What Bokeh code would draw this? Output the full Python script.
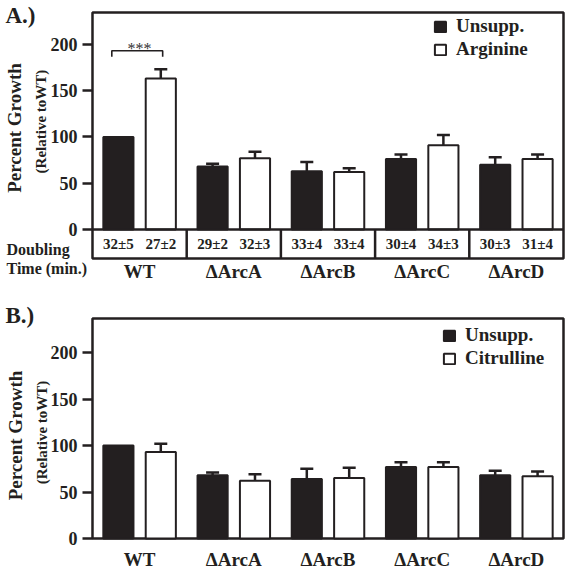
import numpy as np
from bokeh.plotting import figure
from bokeh.models import (ColumnDataSource, Whisker, TeeHead, Label, Legend, LegendItem,
                          FixedTicker, Range1d)
from bokeh.layouts import column
from bokeh.core.properties import value
from bokeh.embed import file_html
from bokeh.resources import INLINE

# ---------------- data ----------------
strains = ["WT", "ΔArcA", "ΔArcB", "ΔArcC", "ΔArcD"]
y_ticks = [0, 50, 100, 150, 200]

a_unsupp = [100, 68, 63, 76, 70]
a_unsupp_err = [0, 3, 10, 5, 8]
a_arg = [163, 77, 62, 91, 76]
a_arg_err = [10, 7, 4, 11, 5]
a_doubling_unsupp = ["32±5", "29±2", "33±4", "30±4", "30±3"]
a_doubling_arg = ["27±2", "32±3", "33±4", "34±3", "31±4"]
a_sig_label = "***"
a_sig_level = 193

b_unsupp = [100, 68, 64, 77, 68]
b_unsupp_err = [0, 3, 11, 5, 5]
b_cit = [93, 62, 65, 77, 67]
b_cit_err = [9, 7, 11, 5, 5]

# ---------------- style / layout ----------------
BLACK = "#231f20"
FONT = "Liberation Serif"
OFF = 0.225
BW = 0.32
N = len(strains)
W = 567
X_LO, X_HI = -1.4766, N - 0.5 + 0.0425   # frame covers whole canvas; box spans -0.5..N-0.5


def xpx(px):
    return X_LO + px * (X_HI - X_LO) / W


def add_label(p, x, y, text, size, align="left", angle=0.0, style="bold", baseline="middle"):
    p.add_layout(Label(x=x, y=y, text=text, angle=angle, text_align=align,
                       text_baseline=baseline, text_font=FONT, text_font_size=size,
                       text_font_style=style, text_color=BLACK))


def make_panel(height, y_lo, y_hi, box_bottom, box_top, unsupp, unsupp_err, supp, supp_err,
               supp_name, tag, tag_y, legend_loc, x_standoff, ylab_y1, ylab_y2, ylab_x1, ylab_x2):
    x = np.arange(N)
    p = figure(width=W, height=height, output_backend="svg", toolbar_location=None,
               x_range=Range1d(X_LO, X_HI), y_range=Range1d(y_lo, y_hi),
               min_border_left=0, min_border_right=0, min_border_top=0, min_border_bottom=0)
    p.background_fill_color = "white"
    p.border_fill_color = "white"
    p.outline_line_color = None
    p.grid.visible = False

    # plot box
    p.quad(left=[-0.5], right=[N - 0.5], bottom=[box_bottom], top=[box_top],
           fill_color=None, line_color=BLACK, line_width=2.5)

    src_u = ColumnDataSource(dict(x=x - OFF, top=unsupp))
    src_s = ColumnDataSource(dict(x=x + OFF, top=supp))
    r_u = p.vbar(x="x", top="top", bottom=0, width=BW, source=src_u,
                 fill_color=BLACK, line_color=BLACK, line_width=2)
    r_s = p.vbar(x="x", top="top", bottom=0, width=BW, source=src_s,
                 fill_color="white", line_color=BLACK, line_width=2)

    for xs, vals, errs in [(x - OFF, unsupp, unsupp_err), (x + OFF, supp, supp_err)]:
        keep = [i for i, e in enumerate(errs) if e > 0]
        ws = ColumnDataSource(dict(base=[float(xs[i]) for i in keep],
                                   lower=[vals[i] for i in keep],
                                   upper=[vals[i] + errs[i] for i in keep]))
        p.add_layout(Whisker(source=ws, base="base", lower="lower", upper="upper",
                             line_color=BLACK, line_width=2.5,
                             upper_head=TeeHead(size=13, line_color=BLACK, line_width=2.5),
                             lower_head=None))

    # y axis, fixed at the box's left edge
    p.yaxis.fixed_location = -0.5
    p.yaxis.ticker = FixedTicker(ticks=y_ticks)
    p.yaxis.major_label_text_font = FONT
    p.yaxis.major_label_text_font_size = "18px"
    p.yaxis.major_label_text_font_style = "bold"
    p.yaxis.major_label_text_color = BLACK
    p.yaxis.axis_line_color = None
    p.yaxis.major_tick_line_color = BLACK
    p.yaxis.major_tick_line_width = 2.5
    p.yaxis.major_tick_out = 10
    p.yaxis.major_tick_in = 0
    p.yaxis.minor_tick_line_color = None
    p.yaxis.major_label_standoff = 5

    # x axis, fixed at the box's bottom edge
    p.xaxis.fixed_location = box_bottom
    p.xaxis.ticker = FixedTicker(ticks=list(range(N)))
    p.xaxis.major_label_overrides = {i: s for i, s in enumerate(strains)}
    p.xaxis.major_label_text_font = FONT
    p.xaxis.major_label_text_font_size = "19px"
    p.xaxis.major_label_text_font_style = "bold"
    p.xaxis.major_label_text_color = BLACK
    p.xaxis.axis_line_color = None
    p.xaxis.major_tick_line_color = None
    p.xaxis.minor_tick_line_color = None
    p.xaxis.major_tick_out = 0
    p.xaxis.major_label_standoff = x_standoff

    # legend
    legend = Legend(items=[LegendItem(label="Unsupp.", renderers=[r_u]),
                           LegendItem(label=supp_name, renderers=[r_s])],
                    location=legend_loc, padding=0, margin=0, spacing=1,
                    glyph_width=14, glyph_height=13, label_height=20, label_standoff=9,
                    label_text_font=FONT, label_text_font_size="19px",
                    label_text_font_style="bold", label_text_color=BLACK,
                    border_line_color=None, background_fill_alpha=0)
    p.add_layout(legend)

    # y labels and panel tag
    add_label(p, xpx(ylab_x1), ylab_y1, "Percent Growth", "19px", "center", np.pi / 2)
    add_label(p, xpx(ylab_x2), ylab_y2, "(Relative toWT)", "15px", "center", np.pi / 2)
    add_label(p, xpx(5), tag_y, tag, "23px")
    return p


# ---------------- panel A ----------------
A_BOX_TOP, A_BOX_BOTTOM = 234.3, -31.3
pA = make_panel(290, -65.9, 247.3, A_BOX_BOTTOM, A_BOX_TOP, a_unsupp, a_unsupp_err,
                a_arg, a_arg_err, "Arginine", "A.)", 231.1, (433, 230), 3,
                109.6, 116.6, 14, 40)
xA = np.arange(N)
# zero line and doubling-time boxes
pA.line(x=[-0.5, N - 0.5], y=[0, 0], line_color=BLACK, line_width=2.5)
bounds = xA[:-1] + 0.5
pA.segment(x0=bounds, y0=A_BOX_BOTTOM, x1=bounds, y1=0, line_color=BLACK, line_width=2.5)
pA.text(x=xA - OFF, y=[-16.2] * N, text=a_doubling_unsupp, text_font=value(FONT),
        text_font_size="15px", text_font_style="bold", text_color=BLACK,
        text_align="center", text_baseline="middle")
pA.text(x=xA + OFF, y=[-16.2] * N, text=a_doubling_arg, text_font=value(FONT),
        text_font_size="15px", text_font_style="bold", text_color=BLACK,
        text_align="center", text_baseline="middle")
add_label(pA, xpx(6), -22, "Doubling", "16px")
add_label(pA, xpx(6), -42, "Time (min.)", "16px")
# significance bracket between WT bars
bx0 = xA[0] - OFF - 0.07
bx1 = xA[0] + OFF + 0.02
pA.line(x=[bx0, bx0, bx1, bx1], y=[a_sig_level - 6.5, a_sig_level, a_sig_level, a_sig_level - 6.5],
        line_color=BLACK, line_width=1.6)
pA.text(x=[xA[0]], y=[a_sig_level + 2.5], text=[a_sig_label], text_font=value(FONT),
        text_font_size="16px", text_color="#333333", text_align="center",
        text_baseline="alphabetic")

# ---------------- panel B ----------------
pB = make_panel(280, -34.4, 266.7, 0, 236.5, b_unsupp, b_unsupp_err, b_cit, b_cit_err,
                "Citrulline", "B.)", 239.8, (442, 201), 10, 110.8, 114, 15, 41)

layout = column(pA, pB, spacing=0)
open("out.html", "w").write(file_html(layout, INLINE))
